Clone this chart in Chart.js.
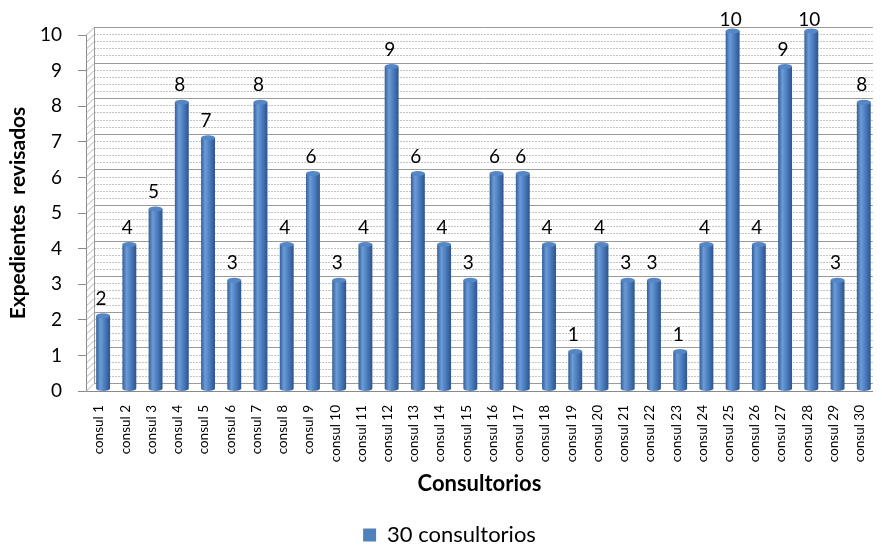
<!DOCTYPE html>
<html>
<head>
<meta charset="utf-8">
<script src="https://cdn.jsdelivr.net/npm/chart.js@4.4.1/dist/chart.umd.min.js"></script>
<style>
  html, body { margin: 0; padding: 0; background: #fff; }
  #wrap { width: 882px; height: 545px; }
</style>
</head>
<body>
<div id="wrap"><canvas id="chart" width="882" height="545"></canvas></div>
<script>
// consultorios y expedientes revisados por cada uno
const labels = [];
for (let i = 1; i <= 30; i++) labels.push('consul ' + i);
const expedientes = [2, 4, 5, 8, 7, 3, 8, 4, 6, 3, 4, 9, 6, 4, 3, 6, 6, 4, 1, 4, 3, 3, 1, 4, 10, 4, 9, 10, 3, 8];
const yTicks = [0, 1, 2, 3, 4, 5, 6, 7, 8, 9, 10];

const FONT = 'Lato, "Open Sans", sans-serif';
const DEPTH = 8; // profundidad de la pared del fondo

// pared del fondo, lateral y piso con lineas cada 0.2
const wallPlugin = {
  id: 'wall',
  afterLayout(chart) {
    // la leyenda va un poco a la derecha, centrada bajo el area del grafico
    if (chart.legend) {
      chart.legend.left += 9;
      chart.legend.right += 9;
    }
  },
  beforeDatasetsDraw(chart) {
    const { ctx, chartArea: a, scales: { y } } = chart;
    ctx.save();
    ctx.lineWidth = 1;
    const bx = a.left + DEPTH;
    for (let i = 0; i <= 50; i++) {
      const v = i / 5;
      const py = Math.round(y.getPixelForValue(v)) + 0.5;
      const major = i % 5 === 0;
      ctx.strokeStyle = major ? '#9a9a9a' : '#c4c4c4';
      ctx.setLineDash(major ? [] : [2, 1]);
      ctx.beginPath();
      ctx.moveTo(bx, py - DEPTH);
      ctx.lineTo(a.right, py - DEPTH);
      ctx.stroke();
      // pared lateral
      ctx.setLineDash([]);
      ctx.strokeStyle = '#b0b0b0';
      ctx.beginPath();
      ctx.moveTo(a.left, py);
      ctx.lineTo(bx, py - DEPTH);
      ctx.stroke();
    }
    ctx.strokeStyle = '#9a9a9a';
    ctx.beginPath();
    ctx.moveTo(bx + 0.5, y.getPixelForValue(10) - DEPTH);
    ctx.lineTo(bx + 0.5, y.getPixelForValue(0) - DEPTH);
    ctx.stroke();
    ctx.restore();
  }
};

// barras cilindricas y etiquetas con el valor (reemplaza el dibujo normal)
const cylinderPlugin = {
  id: 'cylinder',
  beforeDatasetDraw(chart, args) {
    const { ctx } = chart;
    const sx = DEPTH / 2, sy = -DEPTH / 2;
    ctx.save();
    args.meta.data.forEach((bar, i) => {
      const p = bar.getProps(['x', 'y', 'base', 'width'], true);
      const l = p.x - p.width / 2 + sx;
      const r = p.x + p.width / 2 + sx;
      const cx = (l + r) / 2;
      const top = p.y + sy, bottom = p.base + sy + 2;
      const g = ctx.createLinearGradient(l, 0, r, 0);
      g.addColorStop(0, '#325f99');
      g.addColorStop(0.3, '#6c9bd6');
      g.addColorStop(0.6, '#4c7ec0');
      g.addColorStop(1, '#2d548c');
      ctx.fillStyle = g;
      ctx.beginPath();
      ctx.moveTo(l, top);
      ctx.lineTo(l, bottom);
      ctx.ellipse(cx, bottom, (r - l) / 2, 2.5, 0, Math.PI, 0, true);
      ctx.lineTo(r, top);
      ctx.closePath();
      ctx.fill();
      ctx.fillStyle = '#5586c6';
      ctx.beginPath();
      ctx.ellipse(cx, top, (r - l) / 2, 2.5, 0, 0, Math.PI * 2);
      ctx.fill();

      ctx.fillStyle = '#000';
      ctx.font = '19px ' + FONT;
      ctx.textAlign = 'center';
      ctx.textBaseline = 'middle';
      const ly = Math.max(top - 17, 20);
      ctx.fillText(String(expedientes[i]), cx - 2, ly);
    });
    ctx.restore();
    return false;
  }
};

new Chart(document.getElementById('chart'), {
  type: 'bar',
  data: {
    labels: labels,
    datasets: [{
      label: '30 consultorios',
      data: expedientes,
      backgroundColor: '#4f81bd',
      borderWidth: 0,
      barPercentage: 0.53,
      categoryPercentage: 1
    }]
  },
  options: {
    responsive: false,
    animation: false,
    layout: { padding: { left: 0, right: 1, top: 35, bottom: -11 } },
    plugins: {
      tooltip: { enabled: false },
      legend: {
        position: 'bottom',
        labels: {
          color: '#000',
          font: { family: FONT, size: 22 },
          boxWidth: 13,
          boxHeight: 13,
          padding: 0
        }
      }
    },
    scales: {
      x: {
        grid: { display: false },
        border: { display: true, color: '#8a8a8a' },
        ticks: {
          color: '#000',
          font: { family: FONT, size: 13.5 },
          minRotation: 90,
          maxRotation: 90,
          autoSkip: false,
          padding: 6
        },
        title: {
          display: true,
          text: 'Consultorios',
          color: '#000',
          font: { family: FONT, size: 22, weight: 'bold' },
          padding: { top: 8, bottom: 27 }
        },
        afterFit(scale) { scale.height = 133; }
      },
      y: {
        min: 0,
        max: 10,
        afterBuildTicks(scale) { scale.ticks = yTicks.map(v => ({ value: v })); },
        grid: { drawOnChartArea: false, tickLength: 8, color: '#8a8a8a' },
        border: { display: true, color: '#8a8a8a' },
        ticks: {
          color: '#000',
          font: { family: FONT, size: 19 },
          padding: 16
        },
        title: {
          display: true,
          text: 'Expedientes  revisados',
          color: '#000',
          font: { family: FONT, size: 21, weight: 'bold' },
          padding: { top: 6, bottom: 4 }
        },
        afterFit(scale) { scale.width = 86; }
      }
    }
  },
  plugins: [wallPlugin, cylinderPlugin]
});
</script>
</body>
</html>
